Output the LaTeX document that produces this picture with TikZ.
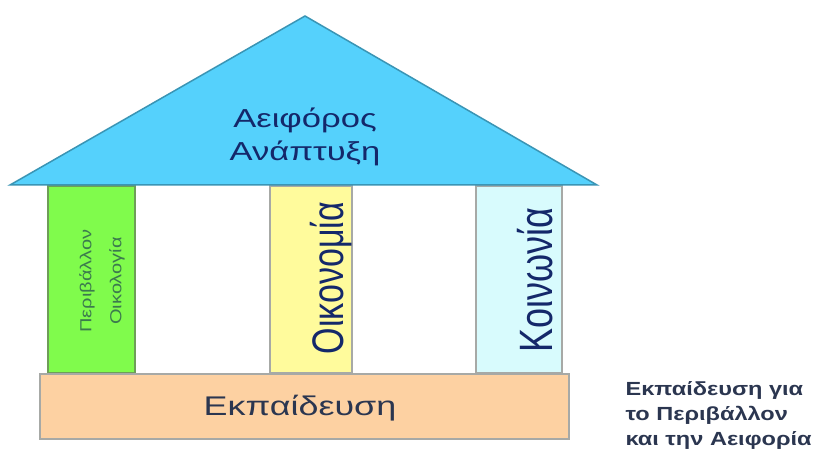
\documentclass[tikz,border=0pt]{standalone}
\usepackage{fontspec}
\setmainfont{Liberation Sans}
\usepackage{graphicx}
\definecolor{roof}{HTML}{55D1FC}
\definecolor{roofline}{HTML}{3A95B5}
\definecolor{grn}{HTML}{80FB4C}
\definecolor{grnline}{HTML}{6E9E58}
\definecolor{grntxt}{HTML}{3C7A4E}
\definecolor{ylw}{HTML}{FFFB9C}
\definecolor{cyn}{HTML}{D8FBFD}
\definecolor{peach}{HTML}{FDD1A2}
\definecolor{gline}{HTML}{A7A9A6}
\definecolor{navy}{HTML}{14286A}
\definecolor{txtgray}{HTML}{2B3650}
\newcommand{\hs}[2][1.33]{\scalebox{#1}[1]{#2}}
\newcommand{\vs}[2][1.3]{\scalebox{1}[#1]{#2}}
\begin{document}
\begin{tikzpicture}[x=1pt,y=-1pt,
  pillar/.style={draw=gline, line width=2pt},
  vtext/.style={rotate=90, inner sep=0pt}]
\useasboundingbox (0,0) rectangle (819,454);
\fill[white] (0,0) rectangle (819,454);
% pillars
\draw[pillar, fill=grn, draw=grnline] (48,186) rectangle (135,373);
\draw[pillar, fill=ylw] (270,186) rectangle (352,373);
\draw[pillar, fill=cyn] (476,186) rectangle (562,373);
% base
\draw[pillar, fill=peach] (40,374) rectangle (569,439);
% roof
\coordinate (rl) at (10,185);
\coordinate (ra) at (305,16);
\coordinate (rr) at (597,185);
\draw[fill=roof, draw=roofline, line width=1.5pt, line join=miter] (rl) -- (ra) -- (rr) -- cycle;
% texts
\node[navy, font=\fontsize{26}{33}\selectfont, align=center] (roofT) at (305,137) {\hs{Αειφόρος}\\\hs{Ανάπτυξη}};
\node[txtgray, font=\fontsize{27}{32}\selectfont] (baseT) at (300,408) {\hs{Εκπαίδευση}};
\node[vtext, navy, font=\fontsize{34}{40}\selectfont] (econT) at (331,278) {\vs{Οικονομία}};
\node[vtext, navy, font=\fontsize{36}{40}\selectfont] (socT) at (535,280) {\vs{Κοινωνία}};
\node[vtext, grntxt, font=\fontsize{20}{30}\selectfont, align=center] (envT) at (102,281) {\vs[0.8]{Περιβάλλον}\\\vs[0.8]{Οικολογία}};
\node[txtgray, anchor=west, font=\bfseries\fontsize{19}{25}\selectfont, align=left] (eduT) at (622,415) {\hs[1.24]{Εκπαίδευση για}\\\hs[1.24]{το Περιβάλλον}\\\hs[1.24]{και την Αειφορία}};
\end{tikzpicture}
\end{document}
